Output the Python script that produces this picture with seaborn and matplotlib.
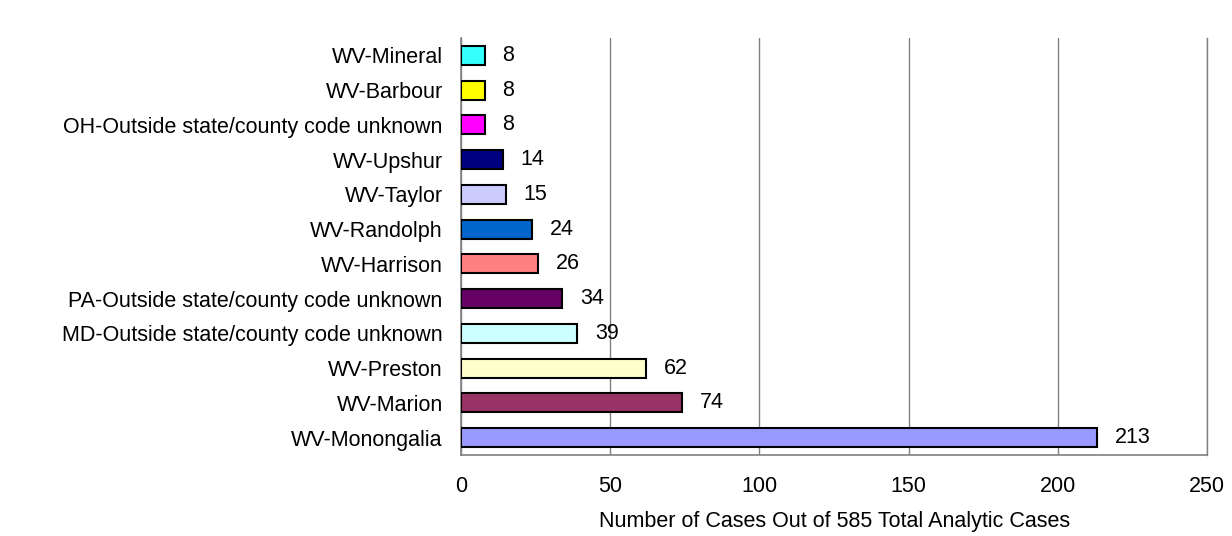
import matplotlib
matplotlib.use("Agg")
import matplotlib.pyplot as plt
import pandas as pd
import numpy as np
import seaborn as sns

sns.set_style("white")
plt.rcParams['font.family'] = ['Liberation Sans', 'DejaVu Sans']
plt.rcParams['text.color'] = 'black'
plt.rcParams['axes.labelcolor'] = 'black'
plt.rcParams['xtick.color'] = 'black'
plt.rcParams['ytick.color'] = 'black'

counties = ["WV-Mineral", "WV-Barbour", "OH-Outside state/county code unknown",
            "WV-Upshur", "WV-Taylor", "WV-Randolph", "WV-Harrison",
            "PA-Outside state/county code unknown", "MD-Outside state/county code unknown",
            "WV-Preston", "WV-Marion", "WV-Monongalia"]
cases = [8, 8, 8, 14, 15, 24, 26, 34, 39, 62, 74, 213]
colors = ["#33FFFF", "#FFFF00", "#FF00FF", "#000080", "#CCCCFF", "#0066CC",
          "#FF8080", "#660066", "#CCFFFF", "#FFFFCC", "#993366", "#9999FF"]
xticks = [0, 50, 100, 150, 200, 250]

df = pd.DataFrame({"county": counties, "cases": cases})

fig = plt.figure(figsize=(12.32, 5.36), dpi=100)
ax = fig.add_axes([0.374, 0.151, 0.606, 0.778])

sns.barplot(data=df, x="cases", y="county", hue="county", palette=dict(zip(counties, colors)),
            order=counties, width=0.55, edgecolor="black", linewidth=1.5, saturation=1,
            legend=False, ax=ax, zorder=3)

for i, v in enumerate(cases):
    ax.text(v + 6, i, str(v), va="center", ha="left", fontsize=15.5)

ax.set_xlim(0, 250)
ax.set_ylim(len(counties) - 0.5, -0.5)
ax.set_xticks(xticks)
ax.set_xlabel("Number of Cases Out of 585 Total Analytic Cases", fontsize=15.5, labelpad=10)
ax.set_ylabel("")
ax.grid(axis="x", color="#808080", linewidth=1, zorder=0)
ax.set_axisbelow(True)

ax.spines["top"].set_visible(False)
ax.spines["right"].set_color("#808080")
ax.spines["right"].set_linewidth(1)
for s in ["left", "bottom"]:
    ax.spines[s].set_color("#808080")
    ax.spines[s].set_linewidth(1.2)

ax.tick_params(axis="x", labelsize=15.5, length=5, color="#808080", direction="out", pad=10)
ax.tick_params(axis="y", which="major", labelsize=15.5, length=0, pad=13)
ax.set_yticks(np.arange(len(counties) + 1) - 0.5, minor=True)
ax.tick_params(axis="y", which="minor", length=5, color="#808080", direction="out")

fig.savefig("out.png", dpi=100)
